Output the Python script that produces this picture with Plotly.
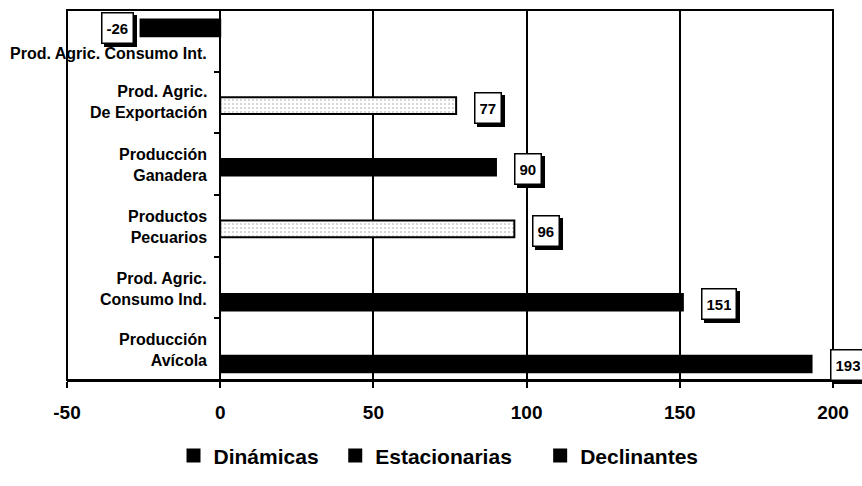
import plotly.graph_objects as go

# ---- data (top to bottom) ----
categories = [
    "Prod. Agric. Consumo Int.",
    "Prod. Agric.<br>De Exportación",
    "Producción<br>Ganadera",
    "Productos<br>Pecuarios",
    "Prod. Agric.<br>Consumo Ind.",
    "Producción<br>Avícola",
]
dinamicas = [None, None, None, None, 151, 193]
estacionarias = [None, 77, 90, 96, None, None]
declinantes = [-26, None, None, None, None, None]
series_names = ["Dinámicas", "Estacionarias", "Declinantes"]
x_ticks = [-50, 0, 50, 100, 150, 200]

# ---- styles ----
FONT = "Liberation Sans, Arial, sans-serif"
BAR_W = 0.27
offsets = {"Dinámicas": 0.105, "Estacionarias": -0.085, "Declinantes": -0.345}
label_yshift = {"Dinámicas": -16, "Estacionarias": -5, "Declinantes": 13}
legend_pad = {"Dinámicas": 2, "Estacionarias": 4, "Declinantes": 0}
est_colors = ["black", "white", "black", "white", "black", "black"]
est_patterns = ["", ".", "", ".", "", ""]
cat_yshift = [-13, 1, -1, -1, -1, -1]


def legend_name(n):
    return n + "\u00a0" * legend_pad[n]


fig = go.Figure()
fig.add_trace(go.Bar(
    name=legend_name(series_names[0]), y=categories, x=dinamicas, orientation="h",
    width=BAR_W, offset=offsets["Dinámicas"],
    marker=dict(color="black", line=dict(color="black", width=2)),
))
fig.add_trace(go.Bar(
    name=legend_name(series_names[1]), y=categories, x=estacionarias, orientation="h",
    width=BAR_W, offset=offsets["Estacionarias"],
    marker=dict(color=est_colors, line=dict(color="black", width=2),
                pattern=dict(shape=est_patterns, fgcolor="#777", bgcolor="white",
                             size=4, solidity=0.12)),
))
fig.add_trace(go.Bar(
    name=legend_name(series_names[2]), y=categories, x=declinantes, orientation="h",
    width=BAR_W, offset=offsets["Declinantes"],
    marker=dict(color="black", line=dict(color="black", width=2)),
))

annotations = []
# category labels next to zero line
for cat, ys in zip(categories, cat_yshift):
    annotations.append(dict(
        x=0, y=cat, xref="x", yref="y", text=cat, showarrow=False,
        xanchor="right", yanchor="middle", align="right", xshift=-11, yshift=ys,
        font=dict(family=FONT, size=16, color="black", weight="bold"),
    ))

# value labels with shadow boxes
for name, vals in zip(series_names, [dinamicas, estacionarias, declinantes]):
    for cat, v in zip(categories, vals):
        if v is None:
            continue
        if v >= 0:
            xa, xs = "left", 18
        else:
            xa, xs = "right", -7
        common = dict(x=v, y=cat, xref="x", yref="y", text=str(v), showarrow=False,
                      xanchor=xa, yanchor="middle", height=21, borderpad=4,
                      borderwidth=1.5)
        annotations.append(dict(common, xshift=xs + 3, yshift=label_yshift[name] - 3,
                                bgcolor="black", bordercolor="black",
                                font=dict(family=FONT, size=15, color="black", weight="bold")))
        annotations.append(dict(common, xshift=xs, yshift=label_yshift[name],
                                bgcolor="white", bordercolor="black",
                                font=dict(family=FONT, size=15, color="black", weight="bold")))

fig.update_layout(
    width=862, height=486,
    margin=dict(l=67, r=29, t=10, b=104),
    paper_bgcolor="white", plot_bgcolor="white",
    font=dict(family=FONT, size=19, color="black", weight="bold"),
    barmode="overlay",
    showlegend=True,
    legend=dict(orientation="h", x=0.485, xanchor="center", y=-0.205, yanchor="middle",
                font=dict(family=FONT, size=21, color="black", weight="bold"),
                bgcolor="rgba(0,0,0,0)"),
    annotations=annotations,
    shapes=[dict(type="rect", xref="paper", yref="paper", x0=0, y0=0, x1=1, y1=1,
                 line=dict(color="black", width=2), layer="above")],
)
fig.update_xaxes(
    range=[-50, 200], tickvals=x_ticks, ticktext=[str(t) for t in x_ticks],
    showgrid=True, gridcolor="black", gridwidth=1.6, zeroline=False,
    showline=True, linecolor="black", linewidth=2,
    ticks="outside", ticklen=6, tickwidth=1.5, tickcolor="black",
    ticklabelstandoff=8,
    tickfont=dict(family=FONT, size=19, color="black", weight="bold"),
)
fig.update_yaxes(
    type="category", categoryorder="array", categoryarray=categories,
    autorange="reversed", anchor="free", position=0.2,
    showline=True, linecolor="black", linewidth=1.6,
    ticks="outside", ticklen=5, tickwidth=1.5, tickcolor="black",
    tickson="boundaries", showticklabels=False, showgrid=False, zeroline=False,
)

fig.write_html(
    "out.html",
    config={"displayModeBar": False},
    post_script="document.body.style.margin='0';document.body.style.overflow='hidden';",
)
